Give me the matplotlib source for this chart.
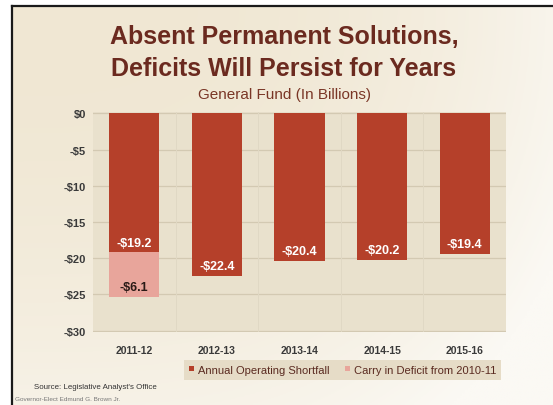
import matplotlib
matplotlib.use("Agg")
import matplotlib.pyplot as plt
from matplotlib.lines import Line2D
import numpy as np

plt.rcParams['font.family'] = ['Liberation Sans', 'DejaVu Sans']

years = ["2011-12", "2012-13", "2013-14", "2014-15", "2015-16"]
shortfall = [-19.2, -22.4, -20.4, -20.2, -19.4]
carry_in = [-6.1, 0, 0, 0, 0]
y_ticks = [0, -5, -10, -15, -20, -25, -30]
y_tick_labels = ["$0", "-$5", "-$10", "-$15", "-$20", "-$25", "-$30"]

W, H = 553, 406
red = "#b5402a"
pink = "#e8a59b"
maroon = "#6b2a1f"

fig = plt.figure(figsize=(W / 100, H / 100), dpi=100)
fig.patch.set_facecolor("white")

# slide background: cream fading to white towards the right/bottom
bg = fig.add_axes([12 / W, 0, 1 - 12 / W, 1 - 7 / H])
xx, yy = np.meshgrid(np.linspace(0, 1, 200), np.linspace(0, 1, 150))
fade = np.clip(0.75 * xx ** 3 + 0.6 * yy ** 2, 0, 1)[..., None]
cream = np.array([240, 231, 211]) / 255
white = np.array([251, 249, 244]) / 255
bg.imshow(cream * (1 - fade) + white * fade, aspect="auto", extent=[0, 1, 0, 1], origin="upper")
bg.set_axis_off()

# frame lines along top and left
fig.add_artist(Line2D([12 / W, 1], [1 - 7 / H, 1 - 7 / H], color="#1a1a1a", lw=1.6))
fig.add_artist(Line2D([12 / W, 12 / W], [0, 1 - 7 / H], color="#1a1a1a", lw=1.6))

# titles
fig.text(284 / W, 1 - 44 / H, "Absent Permanent Solutions,", ha="center", va="baseline",
         fontsize=18, fontweight="bold", color=maroon)
fig.text(284 / W, 1 - 76 / H, "Deficits Will Persist for Years", ha="center", va="baseline",
         fontsize=18, fontweight="bold", color=maroon)
fig.text(285 / W, 1 - 99 / H, "General Fund (In Billions)", ha="center", va="baseline",
         fontsize=11, color="#7a3626")

ax = fig.add_axes([93 / W, 1 - 333 / H, (506 - 93) / W, (333 - 113) / H])
ax.set_facecolor("#e9e1cd")
x = np.arange(len(years))
ax.set_xlim(-0.5, len(years) - 0.5)
ax.set_ylim(-30.2, 0.2)

for y in y_ticks:
    ax.axhline(y, color="#d3c9b2", lw=0.9, zorder=1)
for b in x[:-1] + 0.5:
    ax.axvline(b, color="#e0d8c4", lw=0.7, zorder=1)

ax.bar(x, shortfall, width=0.61, color=red, zorder=3, label="Annual Operating Shortfall")
carry_idx = [i for i, c in enumerate(carry_in) if c != 0]
ax.bar(x[carry_idx], [carry_in[i] for i in carry_idx], bottom=[shortfall[i] for i in carry_idx],
       width=0.61, color=pink, zorder=3, label="Carry in Deficit from 2010-11")

for i, v in enumerate(shortfall):
    ax.text(i, v + 1.35, f"-${abs(v):.1f}", ha="center", va="center",
            fontsize=9, fontweight="bold", color="white", zorder=4)
for i in carry_idx:
    ax.text(i, shortfall[i] + carry_in[i] + 1.35, f"-${abs(carry_in[i]):.1f}", ha="center",
            va="center", fontsize=9, fontweight="bold", color="#2a1a16", zorder=4)

ax.set_yticks(y_ticks)
ax.set_yticklabels(y_tick_labels)
ax.set_xticks(x)
ax.set_xticklabels(years)
ax.tick_params(axis="y", length=0, pad=5, labelsize=8, labelcolor="#3a3a3a")
ax.tick_params(axis="x", length=0, pad=9, labelsize=7.5, labelcolor="#3a3a3a")
for lbl in ax.get_xticklabels() + ax.get_yticklabels():
    lbl.set_fontweight("bold")
for s in ax.spines.values():
    s.set_visible(False)

leg = ax.legend(loc="upper right", bbox_to_anchor=(507 / W, 1 - 355 / H),
                bbox_transform=fig.transFigure, ncol=2, fontsize=8, frameon=True,
                fancybox=False, handlelength=0.4, handleheight=0.4, handletextpad=0.4,
                columnspacing=1.4, borderpad=0.45, labelcolor="#5a2a20")
leg.get_frame().set_facecolor("#e6dcc7")
leg.get_frame().set_edgecolor("none")
leg.get_frame().set_alpha(1)

fig.text(95 / W, 1 - 388 / H, "Source: Legislative Analyst's Office", ha="center", va="center",
         fontsize=5.7, color="#333333")
fig.text(15 / W, 1 - 400 / H, "Governor-Elect Edmund G. Brown Jr.", ha="left", va="center",
         fontsize=4.6, color="#777777")

fig.savefig("out.png", dpi=100)
